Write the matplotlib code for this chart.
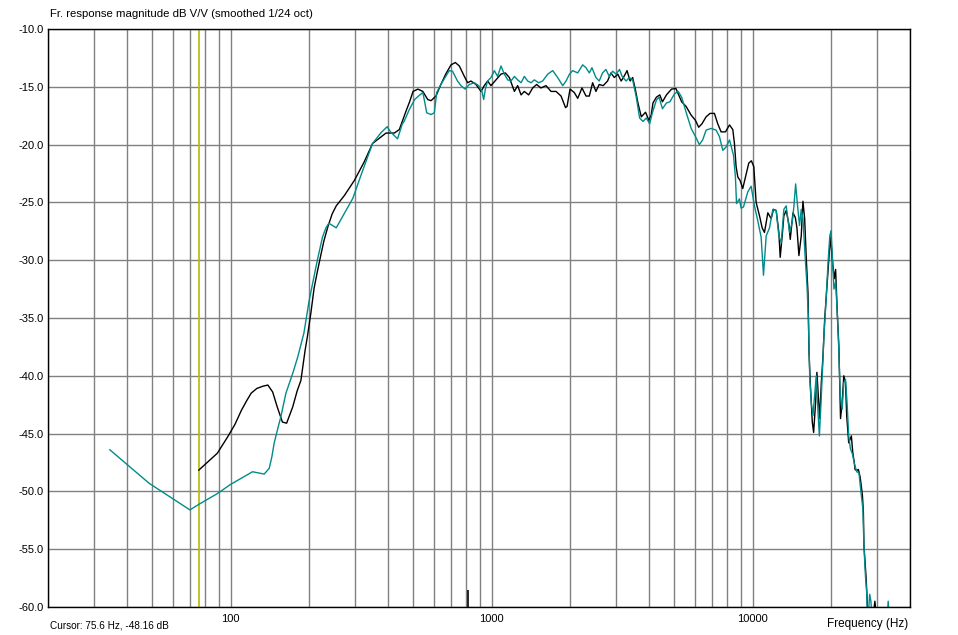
import matplotlib
matplotlib.use("Agg")
import matplotlib.pyplot as plt
import numpy as np

# ---------------- data ----------------
black_freq = [75.6, 89, 97.4, 104, 110, 115, 120, 126, 133, 139, 145, 151, 158, 164, 173,
              180, 186,
              193, 197, 203, 209, 215, 222, 228, 236, 245, 254, 273, 298, 325, 350,
              394, 424, 443, 470, 485, 500,
              522, 545, 569, 586, 612, 639, 667, 699, 726, 752, 786, 809, 833, 871,
              911, 937, 965, 994, 1039, 1086, 1128, 1169, 1222, 1258, 1296, 1334,
              1386, 1436, 1487, 1544, 1615, 1688, 1764, 1844, 1918, 1944, 1996, 2073,
              2136, 2218, 2298, 2366, 2436, 2508, 2581, 2674, 2779, 2862, 2950, 3041,
              3133, 3196, 3300, 3390, 3467,
              3556, 3632, 3742, 3885, 3998, 4083, 4147, 4274, 4404, 4509, 4671, 4885,
              5078, 5181, 5341, 5555, 5808, 6030, 6206, 6388, 6625, 6862, 7129, 7342,
              7563, 7859, 8144, 8385, 8506, 8631, 8763, 8940, 9153, 9373, 9653, 9875,
              10090,
              10299, 10608, 10862, 11087, 11418, 11759, 12006, 12292, 12585, 12734,
              12961, 13154, 13425, 13750, 13915, 14250, 14550, 14760, 15020, 15330,
              15560, 15800, 16030, 16270, 16420, 16600, 16900, 17100, 17400, 17600,
              17880, 18040, 18300, 18570, 18850, 19250, 19600, 19880, 20160, 20510,
              20760, 21060, 21360, 21680, 21990, 22310, 22650, 22890, 23300, 23850,
              24140, 24470, 24640, 25000, 25370, 25740, 26030, 26300, 26520, 26650,
              27130, 27330, 27600, 28800, 29350, 29800]
black_db = [-48.16, -46.7, -45.3, -44.2, -43.0, -42.2, -41.5, -41.1, -40.9, -40.8, -41.4,
            -42.7, -44.0, -44.1,
            -42.7, -41.3, -40.4, -37.8, -36.6, -34.6, -32.4, -31.0, -29.5, -28.3, -27.1,
            -26.0, -25.3, -24.4, -23.1, -21.5, -19.9, -19.0, -19.0, -18.7, -17.1, -16.3,
            -15.4,
            -15.2, -15.4, -16.1, -16.2, -15.8, -14.8, -13.9, -13.1, -12.9, -13.2, -14.1,
            -14.65, -14.5, -14.8, -15.4, -14.9, -14.5, -14.9, -14.4, -13.9, -13.8, -14.2,
            -15.4, -14.9, -15.7, -15.4, -15.7, -15.1, -14.8, -15.1, -14.9, -15.4, -15.4,
            -15.8, -16.8, -16.7, -15.2, -15.5, -16.0, -15.1, -15.8, -15.8, -14.65, -15.4,
            -14.8, -14.9, -14.5, -13.8, -14.2, -13.9, -14.5, -14.2, -13.6, -14.5, -14.2,
            -15.3, -16.4, -17.6, -17.2, -17.9, -17.45, -16.4, -15.9, -15.7, -16.3, -15.7,
            -15.2, -15.15, -15.6, -16.3, -16.7, -17.45, -17.9, -18.5, -18.2, -17.6, -17.3,
            -17.3, -18.2, -18.9, -18.9, -18.3, -18.7, -19.9, -21.9, -22.8, -23.1, -23.8,
            -22.8, -21.6, -21.4, -21.9,
            -25.0, -26.15, -27.2, -27.6, -25.9, -26.4, -25.6, -25.7, -27.6, -29.75,
            -27.9, -26.15, -25.7, -26.9, -28.2, -25.9, -26.3, -27.2, -29.6, -27.9,
            -24.9, -26.4, -29.9, -32.8, -38.0, -40.6, -44.0, -44.9, -42.3, -39.7,
            -42.3, -43.7, -40.6, -38.3, -35.1, -32.2, -29.6, -28.0, -29.9, -31.6,
            -30.8, -34.5, -37.4, -43.7, -42.3, -40.0, -40.6, -43.45, -45.8, -45.2,
            -46.6, -47.5, -48.1, -48.2, -48.1, -48.7, -49.5, -50.4, -51.8, -54.7,
            -57.3, -58.7, -61.0, -61.0, -59.5, -61.0]

teal_freq = [34.5, 48.8, 69.9, 75.9, 88.9, 100, 121.4, 134.6, 140.7, 144, 147, 150,
             156, 163, 173, 181, 191, 200, 215, 225, 232, 238, 246, 254, 269, 294,
             320, 350, 376, 398, 410, 436, 455, 462, 483, 507, 531, 545, 553, 564,
             586, 603, 616, 639, 667, 688, 708, 740, 763, 791, 821, 858, 892, 918,
             932, 946, 965, 994, 1024, 1054, 1086, 1118, 1152, 1186, 1222, 1258, 1296,
             1334, 1374, 1415, 1457, 1513, 1568, 1640, 1713, 1790, 1871, 1927, 1987,
             2043, 2136, 2231, 2298, 2366, 2421, 2508, 2581, 2659, 2739, 2821, 2906,
             2994, 3087, 3160, 3271, 3370, 3467,
             3580, 3687, 3798, 3911, 4028, 4120, 4274, 4377, 4509, 4671, 4813, 5016,
             5181, 5341, 5555, 5808, 6030, 6242, 6426, 6625, 6923, 7235, 7451, 7676,
             7908, 8144, 8433, 8580, 8664, 8888, 9022, 9210, 9567, 9854,
             10148, 10452, 10764, 10990, 11253, 11589, 11937, 12292, 12585, 12847,
             13154, 13425, 13830, 14165, 14375, 14590, 14800, 15100, 15330, 15560,
             15890, 16130, 16330, 16530, 16750, 17000, 17250, 17500, 17780, 17990,
             18200, 18450, 18730, 19000, 19420, 19720, 19940, 20160, 20460, 20760,
             21060, 21320, 21620, 21990, 22310, 22650, 22960, 23300, 23650, 24100,
             24500, 25000, 25500, 25970, 26400, 26650, 27000, 27300, 27500, 27800,
             28030, 28340, 28600, 32700, 33000, 33300]
teal_db = [-46.4, -49.3, -51.6, -51.1, -50.2, -49.4, -48.3, -48.5, -48.0, -47.0, -45.8,
           -45.0, -43.5, -41.5, -39.8, -38.35, -36.3, -33.5, -30.0, -28.0, -27.2, -26.8,
           -27.0, -27.2, -26.2, -24.65, -22.3, -19.9, -19.0, -18.45, -18.9, -19.5, -18.2,
           -18.0, -17.0, -16.1, -15.7, -15.5, -16.2, -17.25, -17.4, -17.25, -15.5, -14.8,
           -14.1, -13.6, -13.65, -14.5, -14.9, -15.2, -14.8, -14.65, -14.9, -15.4, -16.1,
           -15.2, -14.5, -14.2, -13.6, -14.1, -13.2, -13.9, -14.4, -14.5, -14.1, -14.4,
           -14.65, -14.1, -14.5, -14.65, -14.4, -14.65, -14.5, -13.9, -13.6, -14.2,
           -14.9, -14.5, -13.9, -13.6, -13.8, -13.1, -13.35, -13.8, -13.35, -14.2, -14.5,
           -13.8, -13.5, -14.1, -13.65, -13.9, -13.5, -14.1, -14.5, -14.2, -14.4,
           -15.9, -17.7, -18.0, -17.7, -18.2, -17.3, -16.15, -15.9, -16.9, -16.4, -16.3,
           -15.6, -15.4, -15.9, -17.2, -18.6, -19.3, -20.0, -19.6, -18.75, -18.6, -18.75,
           -19.3, -20.5, -20.2, -19.6, -20.9, -22.8, -25.1, -24.7, -25.5, -25.4, -24.1,
           -23.6,
           -25.3, -26.6, -28.0, -31.3, -27.9, -27.2, -25.6, -25.7, -27.9, -28.5,
           -25.6, -25.3, -27.6, -26.7, -25.3, -23.4, -25.0, -27.0, -25.6, -26.4,
           -29.9, -32.2, -35.1, -40.3, -42.3, -43.45, -41.7, -40.0, -43.2, -45.2,
           -42.9, -40.0, -36.5, -34.2, -30.2, -27.9, -27.45, -29.6, -32.5, -31.9,
           -34.5, -37.4, -41.7, -42.9, -40.6, -40.3, -42.3, -45.2, -46.3, -46.8,
           -47.6, -48.3, -48.4, -50.1, -51.5, -54.7, -57.3, -58.7, -61.0, -60.2,
           -58.9, -59.5, -61.0, -61.0, -59.5, -61.0]

cursor_freq = 75.6
cursor_db = -48.16
marker_freq = 812

grid_freqs = [20, 30, 40, 50, 60, 70, 80, 90, 100, 200, 300, 400, 500, 600, 700, 800,
              900, 1000, 2000, 3000, 4000, 5000, 6000, 7000, 8000, 9000, 10000, 20000,
              30000, 40000]
labelled_freqs = [100, 1000, 10000]
db_ticks = [-60, -55, -50, -45, -40, -35, -30, -25, -20, -15, -10]

# ---------------- figure ----------------
plt.rcParams["font.family"] = ["Liberation Sans", "DejaVu Sans"]
fig = plt.figure(figsize=(9.58, 6.35), dpi=100)
ax = fig.add_axes([48 / 958, 28 / 635, 862 / 958, 578 / 635])

ax.set_xscale("log")
ax.set_xlim(20, 40000)
ax.set_ylim(-60, -10)

ax.set_xticks(grid_freqs)
ax.set_xticklabels([str(f) if f in labelled_freqs else "" for f in grid_freqs])
ax.xaxis.set_minor_locator(matplotlib.ticker.NullLocator())
ax.set_yticks(db_ticks)
ax.set_yticklabels([f"{v:.1f}" for v in db_ticks])
ax.tick_params(axis="both", length=0, labelsize=8)
ax.tick_params(axis="y", pad=3)
ax.tick_params(axis="x", pad=5)
ax.grid(True, color="#808080", linewidth=1.0)
ax.set_axisbelow(True)
for s in ax.spines.values():
    s.set_color("black")
    s.set_linewidth(1.0)
    s.set_zorder(5)

# cursor and marker
ax.axvline(cursor_freq, color="#b8b800", linewidth=1.2, zorder=2)
ax.vlines(marker_freq, -60, -58.5, color="black", linewidth=1.2, zorder=3)

# curves
ax.plot(black_freq, black_db, color="black", linewidth=1.0, zorder=3)
ax.plot(teal_freq, teal_db, color="#008b8b", linewidth=1.0, zorder=4)

# texts
fig.text(50 / 958, 1 - 14 / 635, "Fr. response magnitude dB V/V (smoothed 1/24 oct)",
         fontsize=8.2, ha="left", va="center")
fig.text(908 / 958, 1 - 624 / 635, "Frequency (Hz)", fontsize=8.5, ha="right", va="center")
fig.text(50 / 958, 1 - 625 / 635, f"Cursor: {cursor_freq} Hz, {cursor_db} dB",
         fontsize=7.2, ha="left", va="center")

fig.savefig("out.png", dpi=100, facecolor="white")
